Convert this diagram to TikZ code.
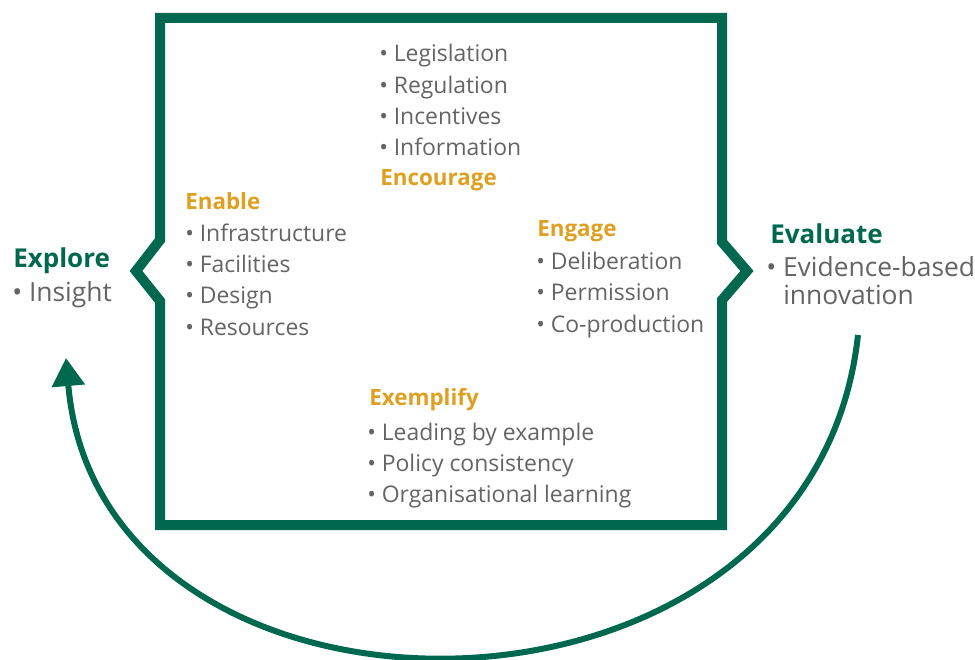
\documentclass[tikz,border=0pt]{standalone}
\usepackage{fontspec}
\setmainfont{Open Sans}
\usetikzlibrary{arrows.meta}
\definecolor{grn}{RGB}{0,104,79}
\definecolor{org}{RGB}{222,160,32}
\definecolor{gry}{RGB}{100,100,100}
\begin{document}
\begin{tikzpicture}[x=0.75pt,y=-0.75pt,
  item/.style={anchor=base west, inner sep=0pt, text=gry, font=\fontsize{17.2}{20}\selectfont},
  head/.style={anchor=base west, inner sep=0pt, text=org, font=\fontsize{16.8}{20}\selectfont\bfseries},
  bigitem/.style={anchor=base west, inner sep=0pt, text=gry, font=\fontsize{19.8}{24}\selectfont},
  bighead/.style={anchor=base west, inner sep=0pt, text=grn, font=\fontsize{19.5}{24}\selectfont\bfseries},
  frame/.style={draw=grn, line width=7.5pt, miter limit=10},
  cycarrow/.style={draw=grn, line width=4.5pt, -{Triangle[length=21pt,width=24pt]}}
]
\useasboundingbox (0,0) rectangle (975,660);
% frame
\path[frame] (160,18) -- (722,18) -- (722,242) -- (747,271) -- (722,300) -- (722,525)
  -- (160,525) -- (160,301) -- (136,271) -- (160,240) -- cycle;
% cycle arrow
\coordinate (arcstart) at (858,335);
\coordinate (arcend) at (66,358);
\path[cycarrow] (arcstart) .. controls (812,758) and (100,758) .. (arcend);

% Encourage
\node[item] (leg) at (379,61.5) {• Legislation};
\node[item] (reg) at (379,93.5) {• Regulation};
\node[item] (inc) at (379,124.5) {• Incentives};
\node[item] (inf) at (379,155.5) {• Information};
\node[head] (enc) at (380,185) {Encourage};
% Enable
\node[head] (ena) at (185,209) {Enable};
\node[item] (infr) at (185,241.5) {• Infrastructure};
\node[item] (fac) at (185,272.5) {• Facilities};
\node[item] (des) at (185,303.5) {• Design};
\node[item] (res) at (185,335.5) {• Resources};
% Engage
\node[head] (eng) at (537,236) {Engage};
\node[item] (del) at (536,269.5) {• Deliberation};
\node[item] (per) at (536,300.5) {• Permission};
\node[item] (cop) at (536,332.5) {• Co-production};
% Exemplify
\node[head] (exe) at (369,405) {Exemplify};
\node[item] (lea) at (367,440.5) {• Leading by example};
\node[item] (pol) at (367,471.5) {• Policy consistency};
\node[item] (org) at (367,502.5) {• Organisational learning};
% Explore
\node[bighead] (exp) at (13,267.5) {Explore};
\node[bigitem] (ins) at (12,301.5) {• Insight};
% Evaluate
\node[bighead] (eva) at (770,243.5) {Evaluate};
\node[bigitem] (evi) at (766,276) {• Evidence-based};
\node[bigitem] (inn) at (783,304) {innovation};
\end{tikzpicture}
\end{document}
